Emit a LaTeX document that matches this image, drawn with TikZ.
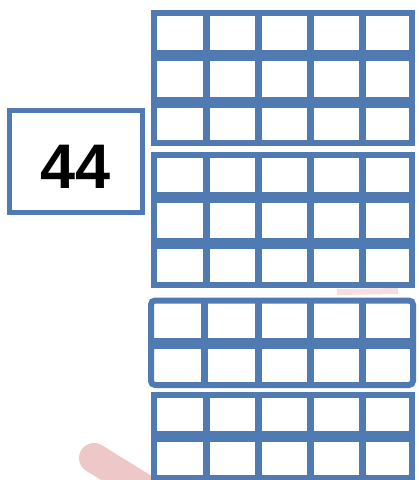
\documentclass[tikz,border=0pt]{standalone}
\usepackage{fontspec}
\setmainfont{Liberation Sans}
\definecolor{frameblue}{RGB}{80,122,178}
\definecolor{markpink}{RGB}{238,200,200}

\begin{document}
\begin{tikzpicture}[
x=1pt, y=-1pt,
numbox/.style={draw=frameblue, line width=5pt, minimum width=133pt, minimum height=102pt, inner sep=0pt, font=\fontsize{63}{63}\selectfont\bfseries, text height=54pt, text depth=0pt},
outline/.style={draw=frameblue, line width=6pt},
rowbar/.style={draw=frameblue, line width=11pt},
colbar/.style={draw=frameblue, line width=7pt}
]
\useasboundingbox (0,0) rectangle (419,480);

% faint marks behind the frames
\draw[markpink, line width=30pt, line cap=round] (94,458) -- (162,500);
\draw[markpink!60, line width=6pt] (337,292) -- (398,291);

% number box
\node[numbox] (num) at (76,161) {44};

% first group: three rows
\foreach \cx in {206.5,258.5,310,362} \draw[colbar] (\cx,13) -- (\cx,143);
\foreach \ry in {55.5,102} \draw[rowbar] (154,\ry) -- (411.5,\ry);
\draw[outline] (154,13) rectangle (411.5,143);

% second group: three rows
\foreach \cx in {206.5,258.5,310,362} \draw[colbar] (\cx,155) -- (\cx,285);
\foreach \ry in {197,243} \draw[rowbar] (154,\ry) -- (411.5,\ry);
\draw[outline] (154,155) rectangle (411.5,285);

% third group: two rows
\foreach \cx in {204,258.5,310,362} \draw[colbar] (\cx,300.5) -- (\cx,385);
\draw[rowbar] (151,343.5) -- (413,343.5);
\draw[outline, rounded corners=4pt] (151,300.5) rectangle (413,385);

% fourth group: two rows
\foreach \cx in {206.5,258.5,310,362} \draw[colbar] (\cx,394.5) -- (\cx,477.5);
\draw[rowbar] (154,436) -- (411.5,436);
\draw[outline] (154,394.5) rectangle (411.5,477.5);
\end{tikzpicture}
\end{document}
